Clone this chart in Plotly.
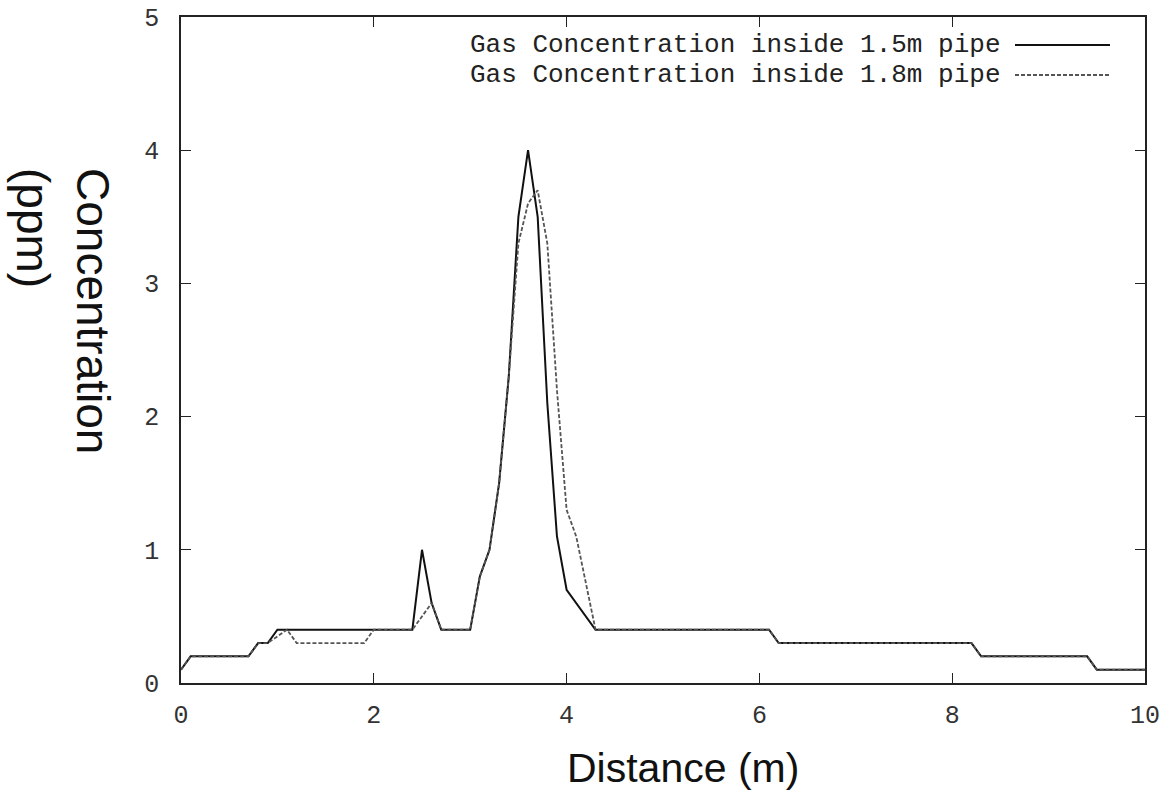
import plotly.graph_objects as go

# Gas concentration inside 1.5 m pipe (solid)
dist_15 = [0, 0.1, 0.7, 0.8, 0.9, 1.0, 2.4, 2.5, 2.6, 2.7, 3.0, 3.1, 3.2, 3.3, 3.4, 3.5,
           3.6, 3.7, 3.8, 3.9, 4.0, 4.3, 6.1, 6.2, 8.2, 8.3, 9.4, 9.5, 10]
conc_15 = [0.1, 0.2, 0.2, 0.3, 0.3, 0.4, 0.4, 1.0, 0.6, 0.4, 0.4, 0.8, 1.0, 1.5, 2.3, 3.5,
           4.0, 3.5, 2.1, 1.1, 0.7, 0.4, 0.4, 0.3, 0.3, 0.2, 0.2, 0.1, 0.1]

# Gas concentration inside 1.8 m pipe (dashed)
dist_18 = [0, 0.1, 0.7, 0.8, 0.9, 1.1, 1.2, 1.9, 2.0, 2.4, 2.6, 2.7, 3.0, 3.1, 3.2, 3.3,
           3.4, 3.5, 3.6, 3.7, 3.8, 3.9, 4.0, 4.1, 4.3, 6.1, 6.2, 8.2, 8.3, 9.4, 9.5, 10]
conc_18 = [0.1, 0.2, 0.2, 0.3, 0.3, 0.4, 0.3, 0.3, 0.4, 0.4, 0.6, 0.4, 0.4, 0.8, 1.0, 1.5,
           2.3, 3.3, 3.6, 3.7, 3.3, 2.2, 1.3, 1.1, 0.4, 0.4, 0.3, 0.3, 0.2, 0.2, 0.1, 0.1]

series_names = ["Gas Concentration inside 1.5m pipe", "Gas Concentration inside 1.8m pipe"]
x_ticks = [0, 2, 4, 6, 8, 10]
y_ticks = [0, 1, 2, 3, 4, 5]

W, H = 1175, 795
PL, PR, PT, PB = 181, 1145, 17, 683   # plot area in page pixels
L, T, R, B = PL, PT, W - PR, H - PB
pw, ph = PR - PL, PB - PT

def px(x):
    return (x - PL) / pw

def py(y):
    return (PB - y) / ph

mono = "Liberation Mono, Courier New, monospace"
sans = "Liberation Sans, Arial, sans-serif"

fig = go.Figure()
fig.add_trace(go.Scatter(x=dist_15, y=conc_15, mode="lines", name=series_names[0],
                         line=dict(color="#111111", width=2), showlegend=False))
fig.add_trace(go.Scatter(x=dist_18, y=conc_18, mode="lines", name=series_names[1],
                         line=dict(color="#555555", width=1.8, dash="4px,2px"), showlegend=False))

axis_common = dict(showgrid=False, zeroline=False, showline=True, linecolor="#222222",
                   linewidth=1.6, mirror="ticks", ticks="inside", ticklen=10,
                   tickwidth=1.4, tickcolor="#222222",
                   tickfont=dict(family=mono, size=25, color="#333333"))

fig.update_xaxes(range=[0, 10], tickvals=x_ticks, ticktext=[str(v) for v in x_ticks],
                 ticklabelstandoff=8, **axis_common)
fig.update_yaxes(range=[0, 5], tickvals=y_ticks, ticktext=[str(v) for v in y_ticks],
                 ticklabelstandoff=15, ticklabeloverflow="allow", **axis_common)

annotations = [
    dict(text="Distance (m)", xref="paper", yref="paper", x=px(683), y=py(768),
         xanchor="center", yanchor="middle", showarrow=False,
         font=dict(family=sans, size=41, color="#111111")),
    dict(text="Concentration<br>(ppm)", xref="paper", yref="paper", x=px(63), y=py(311),
         xanchor="center", yanchor="middle", showarrow=False, textangle=90, align="left",
         font=dict(family=sans, size=46, color="#111111")),
]
legend_y = [45, 75]
for name, yy in zip(series_names, legend_y):
    annotations.append(dict(text=name, xref="paper", yref="paper", x=px(1003), y=py(yy),
                            xanchor="right", yanchor="middle", showarrow=False,
                            font=dict(family=mono, size=26, color="#222222")))

shapes = [
    dict(type="line", xref="paper", yref="paper", x0=px(1015), x1=px(1110),
         y0=py(legend_y[0]), y1=py(legend_y[0]), line=dict(color="#111111", width=2)),
    dict(type="line", xref="paper", yref="paper", x0=px(1015), x1=px(1110),
         y0=py(legend_y[1]), y1=py(legend_y[1]),
         line=dict(color="#555555", width=1.8, dash="4px,2px")),
]

fig.update_layout(width=W, height=H, margin=dict(l=L, r=R, t=T, b=B, autoexpand=False),
                  paper_bgcolor="white", plot_bgcolor="white",
                  annotations=annotations, shapes=shapes, showlegend=False)

fig.write_html("out.html", config={"displayModeBar": False},
               post_script="document.body.style.margin='0px';document.body.style.overflow='hidden';")
